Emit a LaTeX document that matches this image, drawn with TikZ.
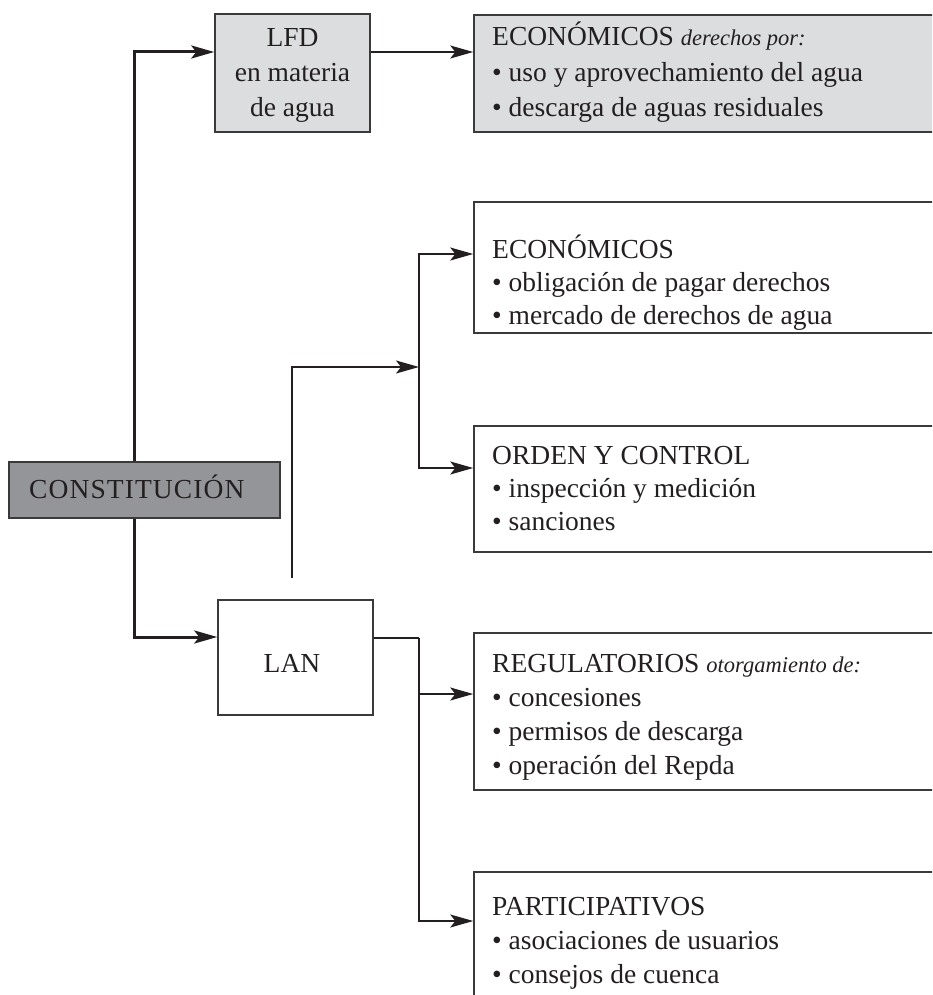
\documentclass[tikz,border=0pt]{standalone}
\usepackage{fontspec}
\setmainfont{Liberation Serif}
\newfontfamily\consfont[LetterSpace=4]{Liberation Serif}
\usetikzlibrary{arrows.meta}
\definecolor{lightfill}{HTML}{DCDDDF}
\definecolor{darkfill}{HTML}{939598}
\definecolor{edgegray}{HTML}{3A3A3A}
\definecolor{ink}{HTML}{231F20}
\newcommand{\itlabel}[1]{{\fontsize{22.5}{30}\selectfont\itshape #1}}
\tikzset{
  box/.style={draw=edgegray, line width=1.5pt, rectangle, inner sep=0pt},
  txt/.style={inner sep=0pt, anchor=base west, text=ink, font=\fontsize{27.5}{33}\selectfont},
  ctxt/.style={inner sep=0pt, anchor=base, text=ink, font=\fontsize{27.5}{33}\selectfont},
  thn/.style={draw=ink, line width=1.4pt},
  thk/.style={draw=ink, line width=3pt},
  tip/.style={-{Stealth[length=23pt,width=13pt,inset=5pt]}},
}
\begin{document}
\begin{tikzpicture}[x=1pt,y=-1pt]
\useasboundingbox (0,0) rectangle (932,995);
\clip (0,0) rectangle (932,995);

% boxes
\node[box, fill=lightfill, minimum width=155pt, minimum height=118pt] (lfd) at (292.5,73) {};
\node[box, fill=lightfill, minimum width=471pt, minimum height=117pt] (e1) at (709.5,73.5) {};
\node[box, minimum width=471pt, minimum height=131pt] (e2) at (709.5,267.5) {};
\node[box, minimum width=471pt, minimum height=126pt] (oc) at (709.5,489) {};
\node[box, fill=darkfill, minimum width=271pt, minimum height=56pt] (cons) at (144.5,490) {};
\node[box, minimum width=155pt, minimum height=115pt] (lan) at (295.5,657.5) {};
\node[box, minimum width=471pt, minimum height=157pt] (reg) at (709.5,711.5) {};
\node[box, minimum width=471pt, minimum height=140pt] (part) at (709.5,942) {};

% texts
\node[ctxt] (lfd1) at (292.5,47) {LFD};
\node[ctxt] (lfd2) at (292.5,82) {en materia};
\node[ctxt] (lfd3) at (292.5,117) {de agua};

\node[txt] (e1a) at (492,46) {ECONÓMICOS \itlabel{derechos por:}};
\node[txt] (e1b) at (492,82) {• uso y aprovechamiento del agua};
\node[txt] (e1c) at (492,117) {• descarga de aguas residuales};

\node[txt] (e2a) at (492,258) {ECONÓMICOS};
\node[txt] (e2b) at (492,291) {• obligación de pagar derechos};
\node[txt] (e2c) at (492,324) {• mercado de derechos de agua};

\node[txt] (oca) at (492,464) {ORDEN Y CONTROL};
\node[txt] (ocb) at (492,497) {• inspección y medición};
\node[txt] (occ) at (492,530) {• sanciones};

\node[txt] (consa) at (29,498) {\consfont CONSTITUCIÓN};

\node[ctxt] (lana) at (292,672) {LAN};

\node[txt] (rega) at (492,672) {REGULATORIOS \itlabel{otorgamiento de:}};
\node[txt] (regb) at (492,706) {• concesiones};
\node[txt] (regc) at (492,740) {• permisos de descarga};
\node[txt] (regd) at (492,774) {• operación del Repda};

\node[txt] (parta) at (492,915) {PARTICIPATIVOS};
\node[txt] (partb) at (492,949) {• asociaciones de usuarios};
\node[txt] (partc) at (492,983) {• consejos de cuenca};

% helper coordinates
\coordinate (trunk) at (134,0);
\coordinate (y52) at (0,52);
\coordinate (y637) at (0,637);
\coordinate (y254) at (0,254);
\coordinate (y468) at (0,468);
\coordinate (y638) at (0,638);
\coordinate (y694) at (0,694);
\coordinate (y921) at (0,921);
\coordinate (s1) at (292,578);
\coordinate (j1) at (419,367);
\coordinate (j2) at (419,638);

% thick connectors from CONSTITUCION
\draw[thk, tip] (cons.north -| trunk) |- (lfd.west |- y52);
\draw[thk, tip] (cons.south -| trunk) |- (lan.west |- y637);

% thin connectors
\draw[thn, tip] (lfd.east |- y52) -- (e1.west |- y52);
\draw[thn, tip] (s1) |- (j1);
\draw[thn, tip] (j1) |- (e2.west |- y254);
\draw[thn, tip] (j1) |- (oc.west |- y468);
\draw[thn] (lan.east |- y638) -- (j2);
\draw[thn, tip] (j2) |- (reg.west |- y694);
\draw[thn, tip] (j2) |- (part.west |- y921);
\end{tikzpicture}
\end{document}
